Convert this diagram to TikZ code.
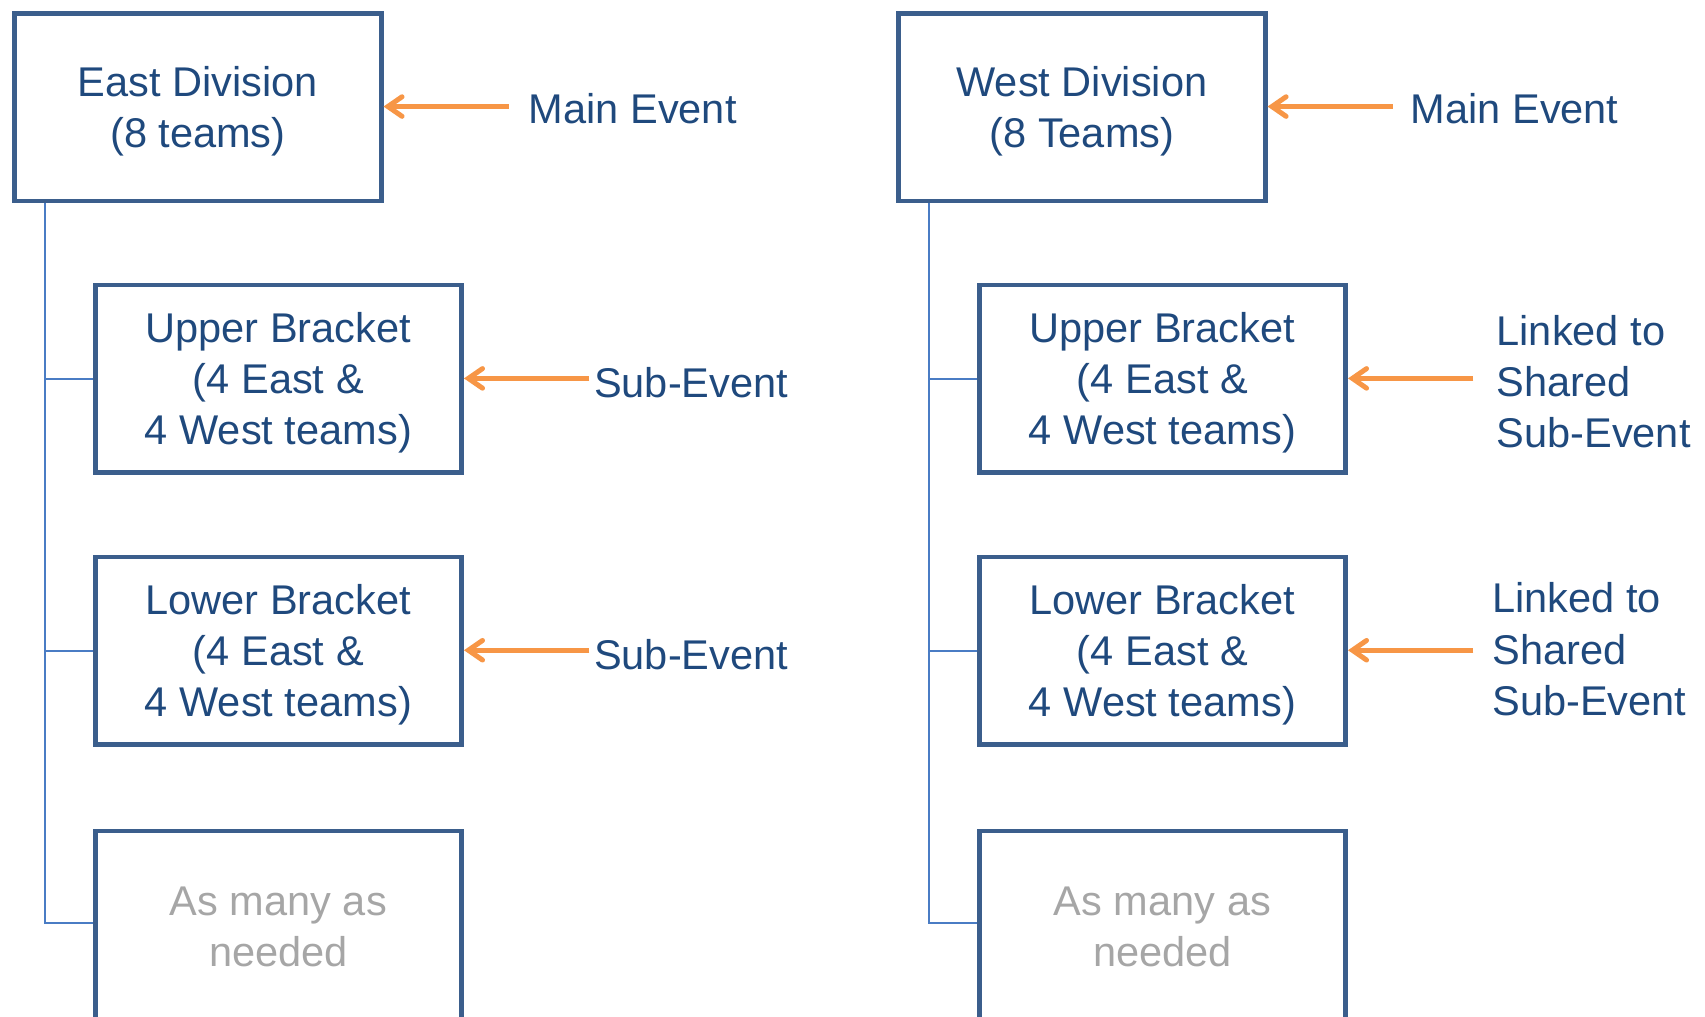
\documentclass[tikz,border=0pt]{standalone}
\usepackage{fontspec}
\setmainfont{Liberation Sans}
\usetikzlibrary{arrows.meta}
\definecolor{boxblue}{HTML}{3B5E8C}
\definecolor{txtblue}{HTML}{1F497D}
\definecolor{linkblue}{HTML}{4A7CC4}
\definecolor{arrorange}{HTML}{F79646}
\definecolor{needgray}{HTML}{A6A6A6}
\tikzset{
  evbox/.style={draw=boxblue, line width=2.2pt, minimum width=168.5pt, minimum height=86.3pt,
    inner sep=0pt},
  tallbox/.style={evbox, minimum height=120pt, anchor=north},
  boxtext/.style={align=center, inner sep=0pt, yshift=-1.8pt, text=txtblue, font=\fontsize{19.1}{23.5}\selectfont},
  needtext/.style={boxtext, text=needgray},
  evlabel/.style={anchor=west, inner sep=0pt, align=left, text=txtblue, font=\fontsize{19.1}{23.5}\selectfont},
  treeline/.style={draw=linkblue, line width=0.9pt},
  orarrow/.style={draw=arrorange, line width=2.3pt, -{Straight Barb[length=6.5pt,width=9pt,line width=2.3pt,line cap=round]}}
}
\begin{document}
\begin{tikzpicture}[x=0.5pt,y=-0.5pt]
\useasboundingbox (0,0) rectangle (1568,934.4);
\clip (0,0) rectangle (1568,934.4);
% East column
\node[evbox, label={[boxtext]center:{East Division\\(8 teams)}}] (east) at (182,98.5) {};
\node[evbox, label={[boxtext]center:{Upper Bracket\\(4 East \&\\4 West teams)}}] (eup) at (256,348.5) {};
\node[evbox, label={[boxtext]center:{Lower Bracket\\(4 East \&\\4 West teams)}}] (elow) at (256,598.5) {};
\node[tallbox] (eneedbox) at (256,762) {};
\node[needtext] (eneed) at (256,848.5) {As many as\\needed};
\node[evlabel] (emain) at (486,100) {Main Event};
\node[evlabel] (esub1) at (546,352) {Sub-Event};
\node[evlabel] (esub2) at (546,602) {Sub-Event};
\coordinate (etop) at ([xshift=15pt]east.south west);
\draw[treeline] (etop) |- (eneedbox.west |- 0,848.5);
\draw[treeline] (eup.west) -- (eup.west -| etop);
\draw[treeline] (elow.west) -- (elow.west -| etop);
\coordinate (ea1) at (468,98);
\coordinate (ea2) at (542,348);
\coordinate (ea3) at (542,598);
\draw[orarrow] (ea1) -- (east.east |- ea1);
\draw[orarrow] (ea2) -- (eup.east |- ea2);
\draw[orarrow] (ea3) -- (elow.east |- ea3);
% West column
\node[evbox, label={[boxtext]center:{West Division\\(8 Teams)}}] (west) at (995,98.5) {};
\node[evbox, label={[boxtext]center:{Upper Bracket\\(4 East \&\\4 West teams)}}] (wup) at (1069,348.5) {};
\node[evbox, label={[boxtext]center:{Lower Bracket\\(4 East \&\\4 West teams)}}] (wlow) at (1069,598.5) {};
\node[tallbox] (wneedbox) at (1069,762) {};
\node[needtext] (wneed) at (1069,848.5) {As many as\\needed};
\node[evlabel] (wmain) at (1297,100) {Main Event};
\node[evlabel] (wsub1) at (1376,351) {Linked to\\Shared\\Sub-Event};
\node[evlabel] (wsub2) at (1372,597) {Linked to\\Shared\\Sub-Event};
\coordinate (wtop) at ([xshift=15pt]west.south west);
\draw[treeline] (wtop) |- (wneedbox.west |- 0,848.5);
\draw[treeline] (wup.west) -- (wup.west -| wtop);
\draw[treeline] (wlow.west) -- (wlow.west -| wtop);
\coordinate (wa1) at (1281,98);
\coordinate (wa2) at (1355,348);
\coordinate (wa3) at (1355,598);
\draw[orarrow] (wa1) -- (west.east |- wa1);
\draw[orarrow] (wa2) -- (wup.east |- wa2);
\draw[orarrow] (wa3) -- (wlow.east |- wa3);
\end{tikzpicture}
\end{document}
